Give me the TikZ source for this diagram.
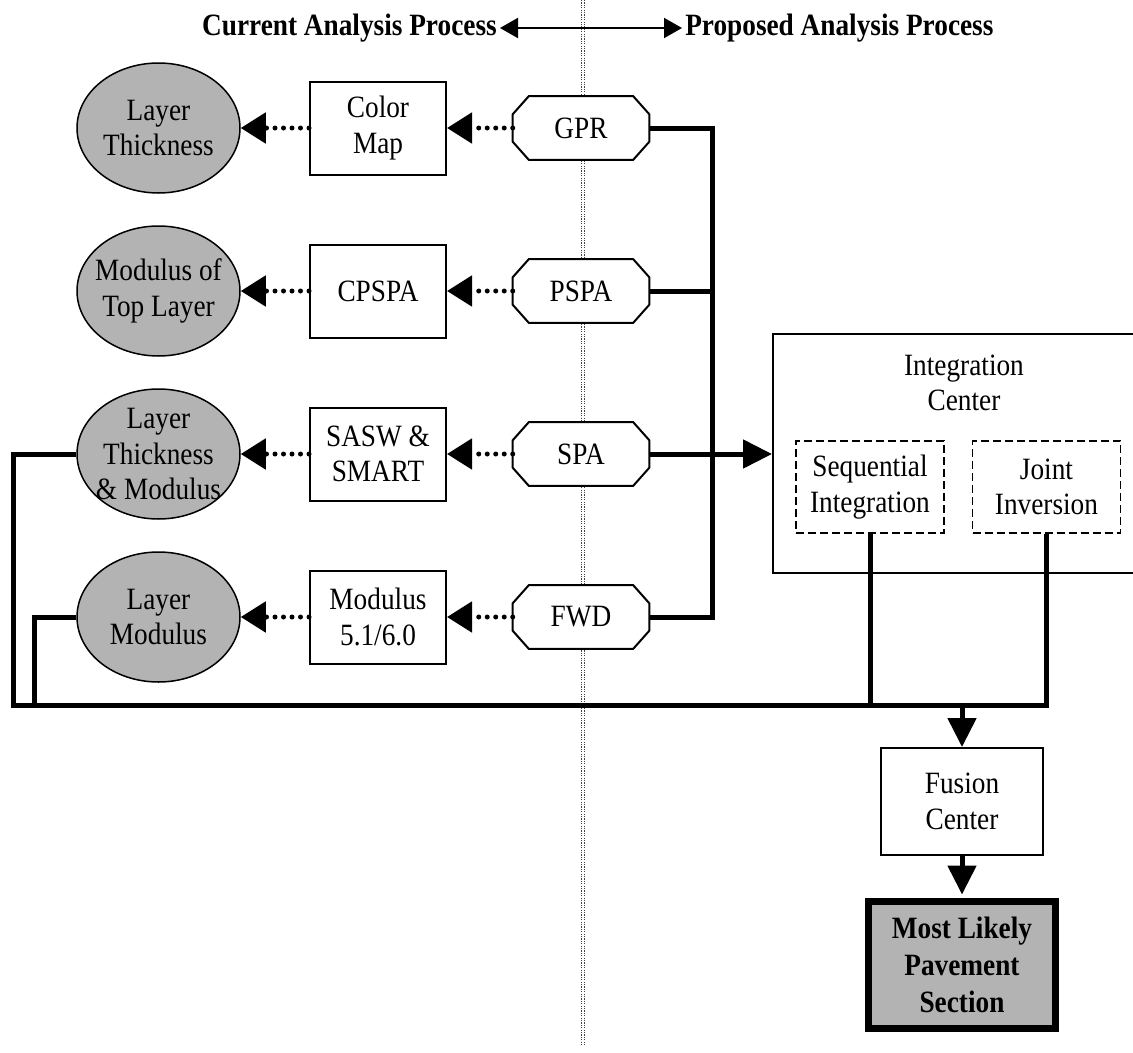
\documentclass[tikz,border=0pt]{standalone}
\usepackage{fontspec}
\setmainfont[FakeStretch=0.88]{Liberation Serif}
\usetikzlibrary{arrows.meta,shapes.geometric}
\definecolor{ellgray}{RGB}{179,179,179}
\begin{document}
\begin{tikzpicture}[x=0.75pt,y=-0.75pt,
  every node/.style={font=\fontsize{23.25pt}{26.6pt}\selectfont, align=center, inner sep=0pt},
  hdr/.style={font=\fontsize{23.25pt}{26.6pt}\selectfont\bfseries, inner sep=2.25pt},
  ell/.style={ellipse, draw, fill=ellgray, line width=1.125pt, minimum width=122.25pt, minimum height=97.5pt},
  box/.style={draw, line width=1.5pt, fill=white, minimum width=102pt, minimum height=69.75pt},
  octbase/.style={rectangle, minimum width=102pt, minimum height=47.25pt},
  octline/.style={draw, line width=1.5pt, fill=white, line join=miter},
  dbox/.style={draw, dash pattern=on 6pt off 3pt, line width=1.125pt, fill=white, minimum width=111pt, minimum height=69pt},
  dotarrow/.style={line width=3.75pt, dash pattern=on 0pt off 6.375pt, line cap=round, -{Triangle[length=18.75pt, width=22.5pt]}},
  bus/.style={line width=3.75pt},
  busarrow/.style={line width=3.75pt, -{Triangle[length=21.75pt, width=21pt]}},
  vline/.style={line width=0.75pt, black!75, dash pattern=on 0.9pt off 0.9pt}
]
\useasboundingbox (0,0) rectangle (1133,1053);

% central dotted divider
\coordinate (vtop) at (583,0);
\coordinate (vbot) at (583,1045);
\draw[vline] ([xshift=-1.2pt]vtop) -- ([xshift=-1.2pt]vbot);
\draw[vline] ([xshift=1.2pt]vtop) -- ([xshift=1.2pt]vbot);

% header
\node[hdr, anchor=east] (cur) at (500,28) {Current Analysis Process};
\node[hdr, anchor=west] (prop) at (682,28) {Proposed Analysis Process};
\draw[line width=1.5pt, {Triangle[length=13.5pt, width=15pt]}-{Triangle[length=13.5pt, width=15pt]}] (cur.east) -- (prop.west);

% ellipses
\node[ell] (e1) at (158.5,128) {};
\node[ell] (e2) at (158.5,291) {};
\node[ell] (e3) at (158.5,454) {};
\node[ell] (e4) at (158.5,617) {};
\node (t1) at (e1) {Layer\\Thickness};
\node (t2) at (e2) {Modulus of\\Top Layer};
\node (t3) at (e3) {Layer\\Thickness\\\& Modulus};
\node (t4) at (e4) {Layer\\Modulus};

% analysis boxes
\node[box] (cm) at (378,128) {Color\\Map};
\node[box] (cp) at (378,291) {CPSPA};
\node[box] (ss) at (378,454) {SASW \&\\SMART};
\node[box] (md) at (378,617) {Modulus\\5.1/6.0};

% devices (octagons)
\node[octbase] (gpr) at (581,128) {};
\node[octbase] (pspa) at (581,291) {};
\node[octbase] (spa) at (581,454) {};
\node[octbase] (fwd) at (581,617) {};
\foreach \n in {gpr,pspa,spa,fwd}{
  \path[octline] ([xshift=12pt]\n.north west) -- ([xshift=-12pt]\n.north east)
    -- ([yshift=-13.5pt]\n.north east) -- ([yshift=13.5pt]\n.south east)
    -- ([xshift=-12pt]\n.south east) -- ([xshift=12pt]\n.south west)
    -- ([yshift=13.5pt]\n.south west) -- ([yshift=-13.5pt]\n.north west) -- cycle;
}
\node (gprt) at (gpr) {GPR};
\node (pspat) at (pspa) {PSPA};
\node (spat) at (spa) {SPA};
\node (fwdt) at (fwd) {FWD};

% dotted arrows
\draw[dotarrow] (gpr.west) -- (cm.east);
\draw[dotarrow] (pspa.west) -- (cp.east);
\draw[dotarrow] (spa.west) -- (ss.east);
\draw[dotarrow] (fwd.west) -- (md.east);
\draw[dotarrow] (cm.west) -- (e1.east);
\draw[dotarrow] (cp.west) -- (e2.east);
\draw[dotarrow] (ss.west) -- (e3.east);
\draw[dotarrow] (md.west) -- (e4.east);

% integration center
\node[draw, line width=1.125pt, minimum width=288pt, minimum height=179.25pt, anchor=north west] (ic) at (772,333) {};
\node (ict) at (964,383) {Integration\\Center};
\node[dbox] (si) at (870,487) {Sequential\\Integration};
\node[dbox] (ji) at (1046.5,487) {Joint\\Inversion};

% fusion and result
\node[draw, line width=1.5pt, fill=white, minimum width=121.5pt, minimum height=80.25pt] (fc) at (962,801.5) {Fusion\\Center};
\node[draw, line width=5.25pt, fill=ellgray, minimum width=140.25pt, minimum height=95.25pt,
      font=\fontsize{23.25pt}{27.5pt}\selectfont\bfseries] (ml) at (962,965) {Most Likely\\Pavement\\Section};

% bus lines
\coordinate (bt) at (712,128);
\coordinate (bl) at (13,705);
\coordinate (bl2) at (34,705);
\draw[bus] (gpr.east) -- (bt) |- (fwd.east);
\draw[bus] (pspa.east) -- (pspa.east -| bt);
\draw[busarrow] (spa.east) -- (spa.east -| ic.west);
\draw[bus] (e3.west) -| (bl) -| (ji.south);
\draw[bus] (e4.west) -| (bl2);
\draw[bus] (si.south) -- (si.south |- bl);
\draw[busarrow] (fc.north |- bl) -- (fc.north);
\draw[busarrow, shorten >=2.625pt] (fc.south) -- (ml.north);
\end{tikzpicture}
\end{document}
